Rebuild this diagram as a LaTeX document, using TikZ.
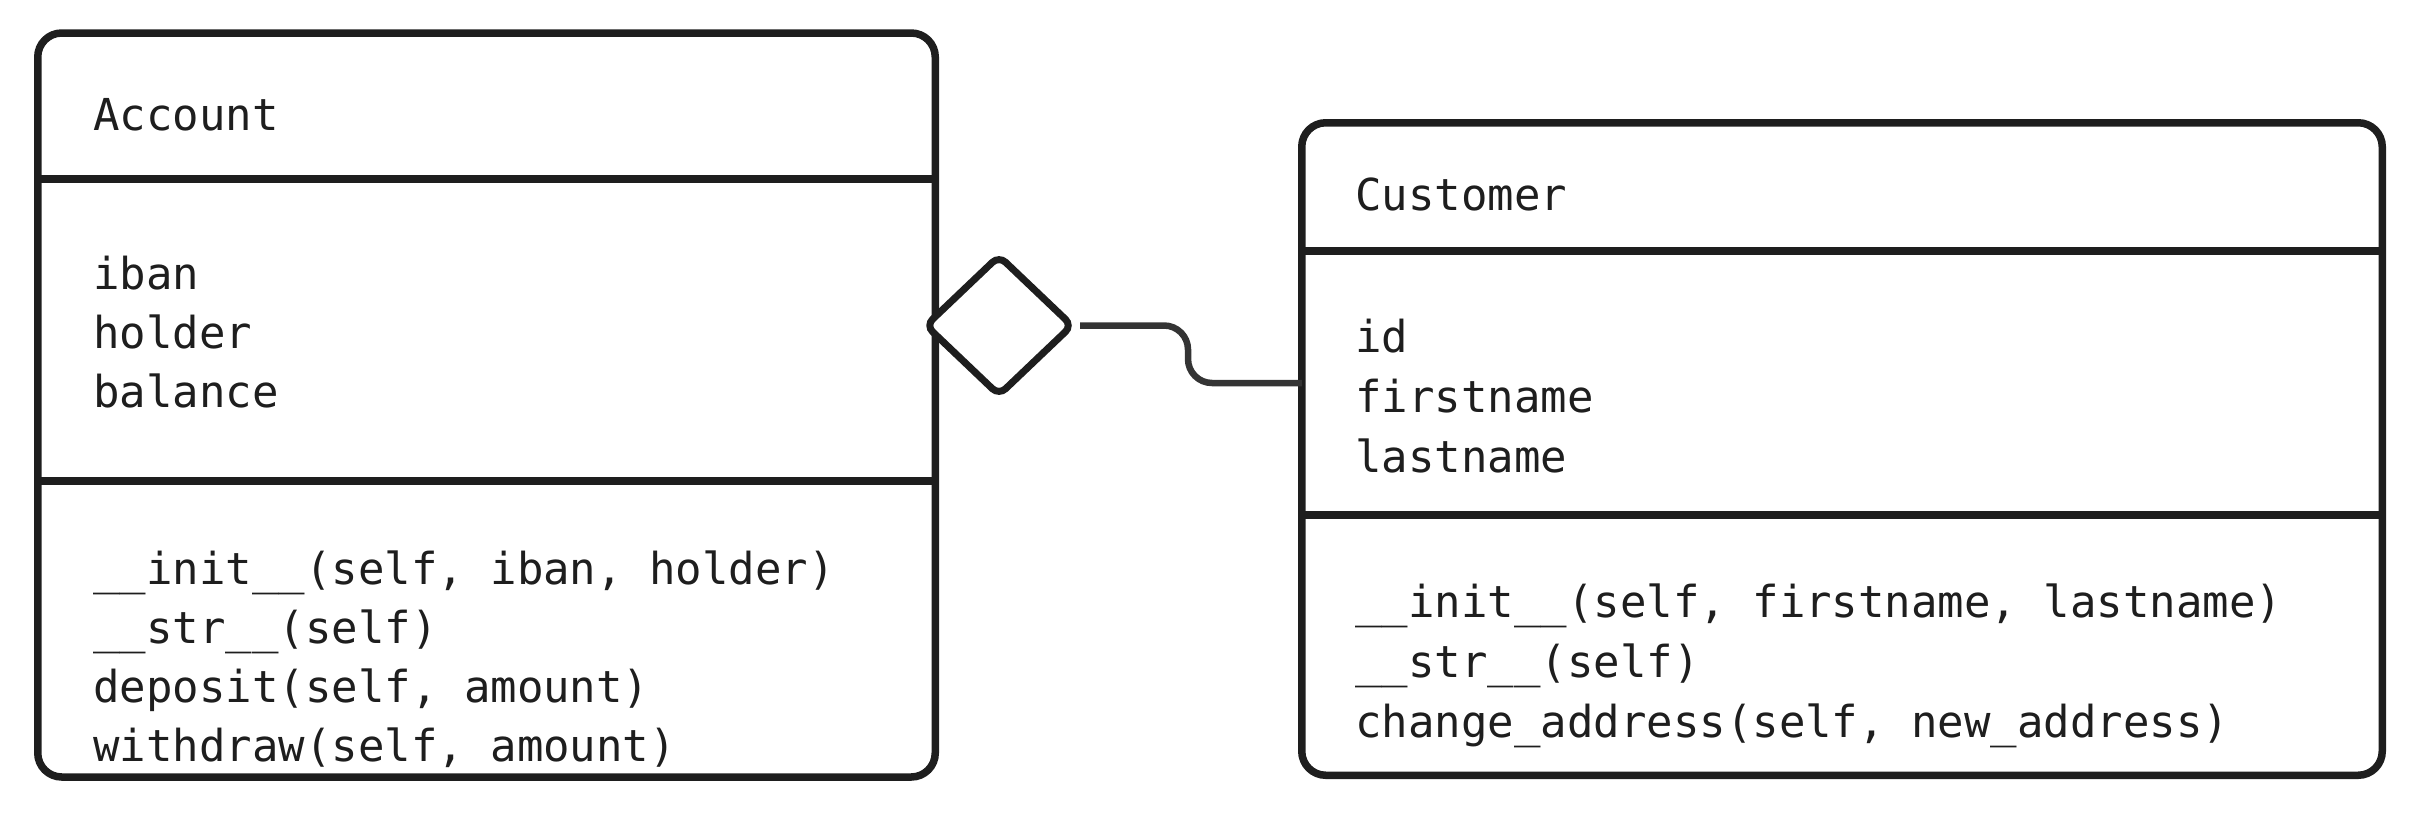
\documentclass[tikz,border=0pt]{standalone}
\usepackage{fontspec}
\setmonofont{DejaVu Sans Mono}
\usetikzlibrary{shapes.geometric}
\definecolor{ink}{HTML}{1E1E1E}
\definecolor{wire}{HTML}{343434}
\begin{document}
\begin{tikzpicture}[x=1pt,y=-1pt,
  classbox/.style={draw=ink, line width=7.5pt, rounded corners=24pt, inner sep=0pt, outer sep=0pt, anchor=north west},
  sep/.style={draw=ink, line width=7.5pt},
  txt/.style={anchor=base west, inner sep=0pt, text=ink, font=\fontsize{44}{60}\selectfont\ttfamily},
  agg/.style={diamond, draw=ink, line width=7pt, rounded corners=9pt, fill=white, inner sep=0pt, outer sep=0pt, minimum width=146pt, minimum height=139pt},
  conn/.style={draw=wire, line width=6.5pt, rounded corners=24pt}]
\useasboundingbox (0,0) rectangle (2426,815);
% Account class
\node[classbox, minimum width=897.5pt, minimum height=744pt] (acc) at (37.75,33) {};
\draw[sep] (acc.west |- 0,179) -- (acc.east |- 0,179);
\draw[sep] (acc.west |- 0,481) -- (acc.east |- 0,481);
\node[txt] (accname) at (93,130) {Account};
\node[txt] (acca1) at (93,289) {iban};
\node[txt] (acca2) at (93,348) {holder};
\node[txt] (acca3) at (93,407) {balance};
\node[txt] (accm1) at (93,584) {\_\_init\_\_(self, iban, holder)};
\node[txt] (accm2) at (93,643) {\_\_str\_\_(self)};
\node[txt] (accm3) at (93,702) {deposit(self, amount)};
\node[txt] (accm4) at (93,761) {withdraw(self, amount)};
% Customer class
\node[classbox, minimum width=1080.5pt, minimum height=652.5pt] (cust) at (1301.75,122.75) {};
\draw[sep] (cust.west |- 0,251) -- (cust.east |- 0,251);
\draw[sep] (cust.west |- 0,515) -- (cust.east |- 0,515);
\node[txt] (custname) at (1355,210) {Customer};
\node[txt] (custa1) at (1355,352) {id};
\node[txt] (custa2) at (1355,412) {firstname};
\node[txt] (custa3) at (1355,472) {lastname};
\node[txt] (custm1) at (1355,617) {\_\_init\_\_(self, firstname, lastname)};
\node[txt] (custm2) at (1355,677) {\_\_str\_\_(self)};
\node[txt] (custm3) at (1355,737) {change\_address(self, new\_address)};
% aggregation
\node[agg] (dia) at (999,325.5) {};
\coordinate (cin) at (cust.west |- 0,383);
\draw[conn] ([xshift=8pt]dia.east) -| (1188,383) -- (cin);
\end{tikzpicture}
\end{document}
